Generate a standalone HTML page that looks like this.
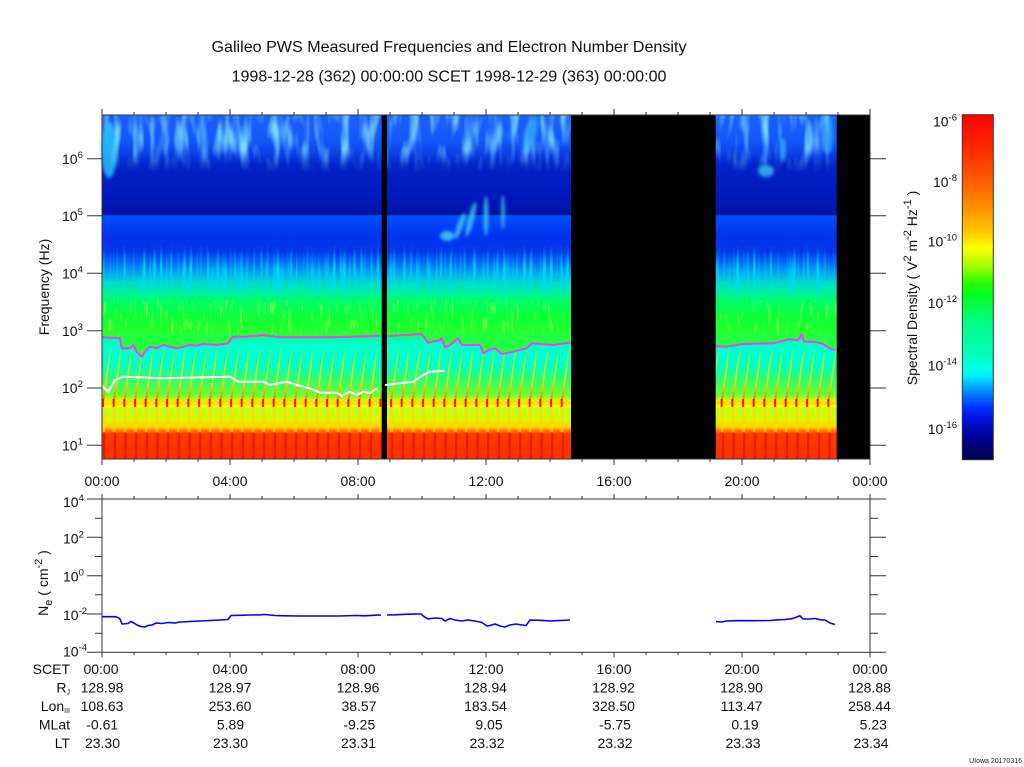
<!DOCTYPE html>
<html><head><meta charset="utf-8"><style>
html,body{margin:0;padding:0;background:#fff;}
svg{display:block;font-family:"Liberation Sans",Arial,sans-serif;}
</style></head><body>
<svg width="1024" height="767" viewBox="0 0 1024 767" xmlns="http://www.w3.org/2000/svg">
<defs>
<linearGradient id="spec" gradientUnits="userSpaceOnUse" x1="0" y1="115" x2="0" y2="459">
<stop offset="0" stop-color="#1a62fa"/>
<stop offset="0.0727" stop-color="#1458f8"/>
<stop offset="0.1076" stop-color="#0c44e8"/>
<stop offset="0.1453" stop-color="#0422c8"/>
<stop offset="0.2471" stop-color="#0018b8"/>
<stop offset="0.2820" stop-color="#0014a8"/>
<stop offset="0.2878" stop-color="#00108a"/>
<stop offset="0.2936" stop-color="#0050ff"/>
<stop offset="0.3110" stop-color="#0046f8"/>
<stop offset="0.3488" stop-color="#0034ec"/>
<stop offset="0.3983" stop-color="#0034ea"/>
<stop offset="0.4273" stop-color="#0064f8"/>
<stop offset="0.4564" stop-color="#00a0f0"/>
<stop offset="0.4855" stop-color="#00d8d0"/>
<stop offset="0.5145" stop-color="#00f0a0"/>
<stop offset="0.5436" stop-color="#00ff60"/>
<stop offset="0.5901" stop-color="#10ff38"/>
<stop offset="0.6395" stop-color="#28ff28"/>
<stop offset="0.6483" stop-color="#00ffa0"/>
<stop offset="0.6686" stop-color="#00ffd0"/>
<stop offset="0.7267" stop-color="#00ffc8"/>
<stop offset="0.7703" stop-color="#30ff70"/>
<stop offset="0.8169" stop-color="#70ff30"/>
<stop offset="0.8285" stop-color="#e0f000"/>
<stop offset="0.8401" stop-color="#ffd800"/>
<stop offset="0.8459" stop-color="#ffff00"/>
<stop offset="0.8547" stop-color="#c0ff20"/>
<stop offset="0.8866" stop-color="#d8f800"/>
<stop offset="0.9070" stop-color="#ffd000"/>
<stop offset="0.9186" stop-color="#ff7000"/>
<stop offset="0.9273" stop-color="#ff3a00"/>
<stop offset="1" stop-color="#ff3000"/>
</linearGradient>
<linearGradient id="cbar" x1="0" y1="0" x2="0" y2="1">
<stop offset="0" stop-color="#ff0000"/>
<stop offset="0.1" stop-color="#ff2a00"/>
<stop offset="0.2" stop-color="#ff6000"/>
<stop offset="0.27" stop-color="#ff9000"/>
<stop offset="0.33" stop-color="#ffc000"/>
<stop offset="0.37" stop-color="#ffe800"/>
<stop offset="0.385" stop-color="#ffff00"/>
<stop offset="0.44" stop-color="#a0ff00"/>
<stop offset="0.49" stop-color="#20ff00"/>
<stop offset="0.52" stop-color="#00ff20"/>
<stop offset="0.6" stop-color="#00ff80"/>
<stop offset="0.7" stop-color="#00ffc0"/>
<stop offset="0.74" stop-color="#00ffe8"/>
<stop offset="0.76" stop-color="#00e8ff"/>
<stop offset="0.8" stop-color="#0090ff"/>
<stop offset="0.85" stop-color="#0030ff"/>
<stop offset="0.88" stop-color="#0010e0"/>
<stop offset="0.94" stop-color="#000090"/>
<stop offset="1" stop-color="#000050"/>
</linearGradient>
<linearGradient id="streakG" gradientUnits="userSpaceOnUse" x1="0" y1="403" x2="0" y2="345">
<stop offset="0" stop-color="#ff5000"/>
<stop offset="0.3" stop-color="#ffd000"/>
<stop offset="0.7" stop-color="#d0ff00" stop-opacity="0.8"/>
<stop offset="1" stop-color="#a0ff40" stop-opacity="0"/>
</linearGradient>
<pattern id="diag" patternUnits="userSpaceOnUse" x="102" y="0" width="10.667" height="767">
<line x1="1" y1="403" x2="9" y2="345" stroke="url(#streakG)" stroke-width="1.6"/>
</pattern>
<pattern id="spk" patternUnits="userSpaceOnUse" x="102" y="0" width="10.667" height="767">
<rect x="0" y="399" width="2" height="8" fill="#ff1000"/>
<rect x="0" y="407" width="3" height="25" fill="#ffd800" opacity="0.7"/>
<rect x="1" y="433" width="2.5" height="26" fill="#d81000" opacity="0.6"/>
</pattern>
<filter id="wisp" filterUnits="objectBoundingBox" x="0" y="0" width="1" height="1">
<feTurbulence type="fractalNoise" baseFrequency="0.1 0.025" numOctaves="2" seed="5"/>
<feColorMatrix values="0 0 0 0 0.2  0 0 0 0 0.7  0 0 0 0 1  2.6 0 0 0 -1.15"/>
</filter>
<filter id="spikes" filterUnits="objectBoundingBox" x="0" y="0" width="1" height="1">
<feTurbulence type="fractalNoise" baseFrequency="0.3 0.008" numOctaves="1" seed="2"/>
<feColorMatrix values="0 0 0 0 0  0 0 0 0 0.7  0 0 0 0 0.95  4 0 0 0 -1.8"/>
</filter>
<filter id="speck" filterUnits="objectBoundingBox" x="0" y="0" width="1" height="1">
<feTurbulence type="fractalNoise" baseFrequency="0.35 0.06" numOctaves="1" seed="9"/>
<feColorMatrix values="0 0 0 0 0.8  0 0 0 0 1  0 0 0 0 0.1  4 0 0 0 -2.3"/>
</filter>
<filter id="blur2"><feGaussianBlur stdDeviation="1.5"/></filter>
<linearGradient id="fadeTopG" gradientUnits="userSpaceOnUse" x1="0" y1="115" x2="0" y2="172">
<stop offset="0" stop-color="#fff"/><stop offset="0.6" stop-color="#fff"/><stop offset="1" stop-color="#000"/>
</linearGradient>
<mask id="fadeTop" maskUnits="userSpaceOnUse" x="0" y="0" width="1024" height="767">
<rect x="102" y="115" width="768" height="60" fill="url(#fadeTopG)"/>
</mask>
<linearGradient id="fadeSpkG" gradientUnits="userSpaceOnUse" x1="0" y1="245" x2="0" y2="300">
<stop offset="0" stop-color="#000"/><stop offset="0.45" stop-color="#fff"/><stop offset="0.75" stop-color="#888"/><stop offset="1" stop-color="#000"/>
</linearGradient>
<mask id="fadeSpk" maskUnits="userSpaceOnUse" x="0" y="0" width="1024" height="767">
<rect x="102" y="245" width="768" height="55" fill="url(#fadeSpkG)"/>
</mask>
</defs>

<!-- Titles -->
<text x="449" y="52" font-size="16" text-anchor="middle" textLength="475" lengthAdjust="spacingAndGlyphs" fill="#111">Galileo PWS Measured Frequencies and Electron Number Density</text>
<text x="449" y="81.5" font-size="16" text-anchor="middle" textLength="435" lengthAdjust="spacingAndGlyphs" fill="#111">1998-12-28 (362) 00:00:00 SCET 1998-12-29 (363) 00:00:00</text>

<!-- Spectrogram -->
<rect x="102" y="115" width="768" height="344" fill="url(#spec)"/>
<rect x="102" y="115" width="768" height="57" filter="url(#wisp)" mask="url(#fadeTop)"/>
<rect x="102" y="245" width="768" height="55" filter="url(#spikes)" mask="url(#fadeSpk)"/>
<rect x="102" y="300" width="768" height="36" filter="url(#speck)" opacity="0.6"/>
<g filter="url(#blur2)">
<ellipse cx="109" cy="150" rx="8" ry="28" fill="#30d0ff" opacity="0.75"/>
<ellipse cx="447" cy="236" rx="7" ry="5" fill="#50e0ff" opacity="0.75"/>
<ellipse cx="460" cy="226" rx="3" ry="14" fill="#50e0ff" opacity="0.7" transform="rotate(20 460 226)"/>
<ellipse cx="471" cy="219" rx="3" ry="18" fill="#50e0ff" opacity="0.7" transform="rotate(15 471 219)"/>
<ellipse cx="486" cy="216" rx="2.5" ry="20" fill="#50e0ff" opacity="0.7"/>
<ellipse cx="503" cy="212" rx="2" ry="17" fill="#50e0ff" opacity="0.65"/>
<ellipse cx="766" cy="171" rx="8" ry="6" fill="#40d0ff" opacity="0.7"/>
<ellipse cx="783" cy="150" rx="3" ry="12" fill="#40d0ff" opacity="0.6"/>
<ellipse cx="530" cy="135" rx="6" ry="20" fill="#40d0ff" opacity="0.5" transform="rotate(15 530 135)"/>
<ellipse cx="828" cy="135" rx="5" ry="20" fill="#40d0ff" opacity="0.5"/>
</g>
<!-- green above magenta -->
<polygon fill="#20ff40" points="102,333 102,337.3 120,338.3 121.7,348.3 130,348.3 133.3,345 136.7,351.7 141.7,356.7 145,351.7 150,346.7 156.7,348.3 163.3,345 170,346.7 176.7,348.3 183.3,346.7 190,345 196.7,345.7 203.3,344 216.7,345 228.3,343.3 232.7,336.7 246.7,336.7 263.3,335 280,337.3 313.3,337.3 330,337.3 353.3,336.7 382,335.7 382,333"/>
<polygon fill="#20ff40" points="386.7,333 386.7,336 416.7,334.3 421.7,334.3 428.3,342.7 440,340 441.7,338.3 445,347.3 450,345 458.3,338.3 461.7,345 480,345 483.3,353.3 490,349.3 495,348.3 501.7,354 513.3,351.7 526.7,348.3 531.7,343.3 553.3,345 571,342.7 571,333"/>
<polygon fill="#20ff40" points="716,333 716,346 726.7,346.7 740,344.3 773.3,343.3 788.3,339.3 798.3,340 801.7,334.3 804,341.7 813.3,341.7 821.7,343.3 830,348.3 837,350 837,333"/>
<rect x="102" y="340" width="768" height="66" fill="url(#diag)"/>
<rect x="102" y="398" width="768" height="61" fill="url(#spk)"/>

<!-- black gaps -->
<rect x="381.7" y="115" width="5.3" height="344" fill="#000"/>
<rect x="571" y="115" width="144.7" height="344" fill="#000"/>
<rect x="836.7" y="115" width="33.3" height="344" fill="#000"/>

<!-- magenta lines -->
<g fill="none" stroke="#f040f0" stroke-width="2" stroke-linejoin="round">
<polyline points="102,337.3 120,338.3 121.7,348.3 130,348.3 133.3,345 136.7,351.7 141.7,356.7 145,351.7 150,346.7 156.7,348.3 163.3,345 170,346.7 176.7,348.3 183.3,346.7 190,345 196.7,345.7 203.3,344 216.7,345 228.3,343.3 232.7,336.7 246.7,336.7 263.3,335 280,337.3 313.3,337.3 330,337.3 353.3,336.7 380,335.7"/>
<polyline points="388,336 416.7,334.3 421.7,334.3 428.3,342.7 440,340 441.7,338.3 445,347.3 450,345 458.3,338.3 461.7,345 480,345 483.3,353.3 490,349.3 495,348.3 501.7,354 513.3,351.7 526.7,348.3 531.7,343.3 553.3,345 570,342.7"/>
<polyline points="716,346 726.7,346.7 740,344.3 773.3,343.3 788.3,339.3 798.3,340 801.7,334.3 804,341.7 813.3,341.7 821.7,343.3 830,348.3 835.5,350"/>
</g>
<!-- white lines -->
<g fill="none" stroke="#ffffff" stroke-width="2" stroke-linejoin="round">
<polyline points="102,386 108.3,391.7 115,380 123.3,376.7 163.3,378.3 230,376.7 238.3,381.7 263.3,381.7 270,385 286.7,381.7 296.7,385 310,388.3 320,392.7 336.7,392.7 341.7,395.7 350,391.7 356.7,395 363.3,391.7 370,393.3 376.7,388.3"/>
<polyline points="385,385 413.3,381.7 423.3,375 430,371.7 444.3,370.7"/>
</g>

<!-- spectrogram frame and ticks -->
<g stroke="#333" fill="none">
<rect x="102" y="115" width="768" height="344" stroke-width="1"/>
<line x1="101.5" y1="113.5" x2="871" y2="113.5" stroke-width="3" stroke-dasharray="1 31"/>
<line x1="101.5" y1="112" x2="871" y2="112" stroke-width="6" stroke-dasharray="1 127"/>
<line x1="101.5" y1="460.5" x2="871" y2="460.5" stroke-width="3" stroke-dasharray="1 31"/>
<line x1="101.5" y1="462" x2="871" y2="462" stroke-width="6" stroke-dasharray="1 127"/>
<path stroke-width="1" d="M87 158.7H102M87 215.7H102M87 273.3H102M87 330.7H102M87 388H102M87 445.3H102M870 158.7H886M870 215.7H886M870 273.3H886M870 330.7H886M870 388H886M870 445.3H886"/>
</g>
<g font-size="14" fill="#111">
<text x="62" y="164">10<tspan dy="-6" font-size="9.5">6</tspan></text>
<text x="62" y="221">10<tspan dy="-6" font-size="9.5">5</tspan></text>
<text x="62" y="278.5">10<tspan dy="-6" font-size="9.5">4</tspan></text>
<text x="62" y="336">10<tspan dy="-6" font-size="9.5">3</tspan></text>
<text x="62" y="393">10<tspan dy="-6" font-size="9.5">2</tspan></text>
<text x="62" y="450.5">10<tspan dy="-6" font-size="9.5">1</tspan></text>
<text transform="translate(49 287) rotate(-90)" text-anchor="middle">Frequency (Hz)</text>
<g text-anchor="middle">
<text x="102" y="486">00:00</text>
<text x="230" y="486">04:00</text>
<text x="358" y="486">08:00</text>
<text x="486" y="486">12:00</text>
<text x="614" y="486">16:00</text>
<text x="742" y="486">20:00</text>
<text x="870" y="486">00:00</text>
</g>
</g>

<!-- colorbar -->
<rect x="962.3" y="114.7" width="31" height="345" fill="url(#cbar)" stroke="#333" stroke-width="1"/>
<g font-size="14" fill="#111" text-anchor="end">
<text x="957" y="126.5">10<tspan dy="-6" font-size="9.5">-6</tspan></text>
<text x="957" y="187">10<tspan dy="-6" font-size="9.5">-8</tspan></text>
<text x="957" y="246.5">10<tspan dy="-6" font-size="9.5">-10</tspan></text>
<text x="957" y="308">10<tspan dy="-6" font-size="9.5">-12</tspan></text>
<text x="957" y="370.5">10<tspan dy="-6" font-size="9.5">-14</tspan></text>
<text x="957" y="434">10<tspan dy="-6" font-size="9.5">-16</tspan></text>
</g>
<text transform="translate(917 288) rotate(-90)" text-anchor="middle" font-size="14" fill="#111">Spectral Density ( V<tspan dy="-6" font-size="11">2</tspan><tspan dy="6"> m</tspan><tspan dy="-6" font-size="11">-2</tspan><tspan dy="6"> Hz</tspan><tspan dy="-6" font-size="11">-1</tspan><tspan dy="6"> )</tspan></text>

<!-- bottom panel -->
<g stroke="#333" fill="none">
<rect x="102" y="499" width="768" height="153.3" stroke-width="1"/>
<line x1="101.5" y1="497.5" x2="871" y2="497.5" stroke-width="3" stroke-dasharray="1 31"/>
<line x1="101.5" y1="496.5" x2="871" y2="496.5" stroke-width="5" stroke-dasharray="1 127"/>
<line x1="101.5" y1="653.8" x2="871" y2="653.8" stroke-width="3" stroke-dasharray="1 31"/>
<line x1="101.5" y1="654.8" x2="871" y2="654.8" stroke-width="5" stroke-dasharray="1 127"/>
<path stroke-width="1" d="M87 499H102M87 537.3H102M87 575.7H102M87 614H102M87 652.3H102M95 518.2H102M95 556.5H102M95 594.8H102M95 633.2H102M870 499H886M870 537.3H886M870 575.7H886M870 614H886M870 652.3H886M870 518.2H878M870 556.5H878M870 594.8H878M870 633.2H878"/>
</g>
<g fill="none" stroke="#0000ff" stroke-width="1.6" stroke-linejoin="round">
<polyline points="102,616.7 115,616.7 118,617.5 120,619 122,624 128,623.5 131,621.5 134,623 137,625 141,626.5 145,627 148,625.5 152,625 156,623 162,623.5 168,622.5 175,623 180,622 190,621.5 200,621 210,620.5 220,620 228,619.5 231,615.5 240,615.3 250,615 260,614.8 265,614.5 275,615.5 285,615.8 300,616 320,616 340,616 355,615.5 365,615.8 375,615.2 381,615"/>
<polyline points="387,615 395,614.8 405,614.3 417,614 421,614 424,616.5 428,619 435,618 442,618.5 445,621 450,618.5 455,620 462,621 468,620 475,621 482,622.5 487,626 490,625.5 495,624 500,626 505,627 510,625 516,624 522,625 526,625.5 530,620 540,620.3 550,621 560,620.5 570,620"/>
<polyline points="716,621.5 722,622 726,621 735,620.7 750,620.7 770,620.5 778,619.8 785,619.5 792,618.7 797,617 800,615.8 803,619 810,619 815,618.5 820,619.8 825,620 830,623 835,624.5"/>
</g>
<g font-size="14" fill="#111">
<text x="63" y="507">10<tspan dy="-6" font-size="9.5">4</tspan></text>
<text x="63" y="543.5">10<tspan dy="-6" font-size="9.5">2</tspan></text>
<text x="63" y="581.7">10<tspan dy="-6" font-size="9.5">0</tspan></text>
<text x="63" y="620">10<tspan dy="-6" font-size="9.5">-2</tspan></text>
<text x="63" y="656.7">10<tspan dy="-6" font-size="9.5">-4</tspan></text>
<text transform="translate(48 583) rotate(-90)" text-anchor="middle">N<tspan dy="4" font-size="11">e</tspan><tspan dy="-4"> ( cm</tspan><tspan dy="-6" font-size="11">-2</tspan><tspan dy="6"> )</tspan></text>
</g>

<!-- ephemeris table -->
<g font-size="14" fill="#111">
<g text-anchor="end">
<text x="70" y="674">SCET</text>
<text x="70" y="692.5">R<tspan font-size="7" dy="2">J</tspan></text>
<text x="70" y="711">Lon<tspan font-size="7" dy="2">III</tspan></text>
<text x="70" y="729.5">MLat</text>
<text x="70" y="748">LT</text>
</g>
<g text-anchor="middle">
<text x="101" y="674">00:00</text><text x="230" y="674">04:00</text><text x="358" y="674">08:00</text><text x="486" y="674">12:00</text><text x="614" y="674">16:00</text><text x="742" y="674">20:00</text><text x="870" y="674">00:00</text>
<text x="102" y="692.5">128.98</text><text x="230" y="692.5">128.97</text><text x="358" y="692.5">128.96</text><text x="485.5" y="692.5">128.94</text><text x="613.5" y="692.5">128.92</text><text x="741.5" y="692.5">128.90</text><text x="869.5" y="692.5">128.88</text>
<text x="102" y="711">108.63</text><text x="230" y="711">253.60</text><text x="359" y="711">38.57</text><text x="485.5" y="711">183.54</text><text x="613.5" y="711">328.50</text><text x="741.5" y="711">113.47</text><text x="869.5" y="711">258.44</text>
<text x="102.2" y="729.5">-0.61</text><text x="230.5" y="729.5">5.89</text><text x="359.3" y="729.5">-9.25</text><text x="489" y="729.5">9.05</text><text x="615" y="729.5">-5.75</text><text x="745" y="729.5">0.19</text><text x="873.3" y="729.5">5.23</text>
<text x="102.5" y="748">23.30</text><text x="230.5" y="748">23.30</text><text x="358.5" y="748">23.31</text><text x="487" y="748">23.32</text><text x="615" y="748">23.32</text><text x="743" y="748">23.33</text><text x="871" y="748">23.34</text>
</g>
</g>
<text x="1022" y="763" font-size="7" text-anchor="end" fill="#222">UIowa 20170316</text>
</svg>
</body></html>
